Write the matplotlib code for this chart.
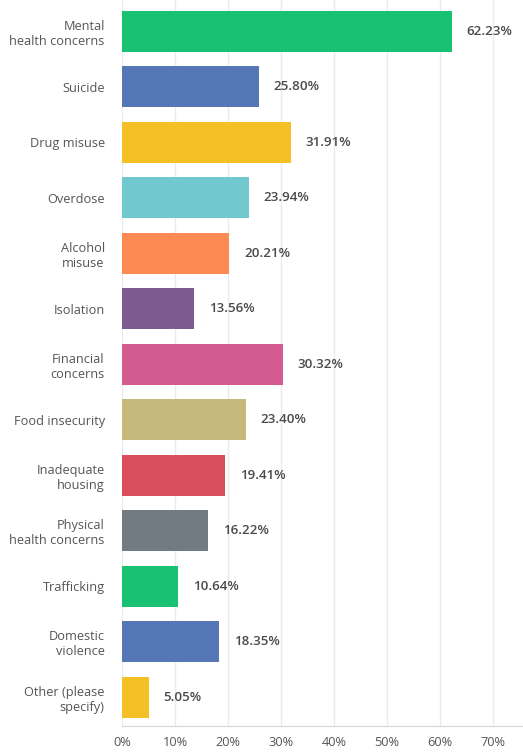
import matplotlib.pyplot as plt

categories = ["Mental\nhealth concerns", "Suicide", "Drug misuse", "Overdose",
              "Alcohol\nmisuse", "Isolation", "Financial\nconcerns",
              "Food insecurity", "Inadequate\nhousing", "Physical\nhealth concerns",
              "Trafficking", "Domestic\nviolence", "Other (please\nspecify)"]
values = [62.23, 25.80, 31.91, 23.94, 20.21, 13.56, 30.32,
          23.40, 19.41, 16.22, 10.64, 18.35, 5.05]
colors = ["#19c172", "#5577b5", "#f4c025", "#72c8cf", "#fd8a52", "#7d5b90",
          "#d35b90", "#c6b97c", "#da4e5d", "#737b82", "#19c172", "#5577b5", "#f4c025"]
xticks = [0, 10, 20, 30, 40, 50, 60, 70]

plt.rcParams['font.family'] = ['Open Sans', 'DejaVu Sans']

fig = plt.figure(figsize=(5.23, 7.52), dpi=100)
ax = fig.add_axes([122 / 523, 26 / 752, 1 - 122 / 523, 1 - 26 / 752])

pos = list(range(len(categories)))
ax.barh(pos, values, height=0.74, color=colors, zorder=3)

# value labels right of each bar
for p, v in zip(pos, values):
    ax.text(v + 2.8, p, f"{v:.2f}%", va="center", ha="left",
            fontsize=9.6, fontweight="semibold", color="#4a4a4a")

ax.set_xlim(0, 75.7)
ax.set_ylim(12.52, -0.56)
ax.set_yticks(pos)
ax.set_yticklabels(categories, fontsize=9.2, color="#555555", linespacing=1.2,
                   multialignment="right")
ax.set_xticks(xticks)
ax.set_xticklabels([f"{t}%" for t in xticks], fontsize=9.2, color="#555555")

ax.tick_params(axis="y", length=0, pad=12.5)
ax.tick_params(axis="x", length=0, pad=7)
ax.grid(axis="x", color="#ebebeb", linewidth=1, zorder=0)
for s in ["top", "right", "left"]:
    ax.spines[s].set_visible(False)
ax.spines["bottom"].set_color("#d6d6d6")

fig.savefig("out.png", dpi=100)
